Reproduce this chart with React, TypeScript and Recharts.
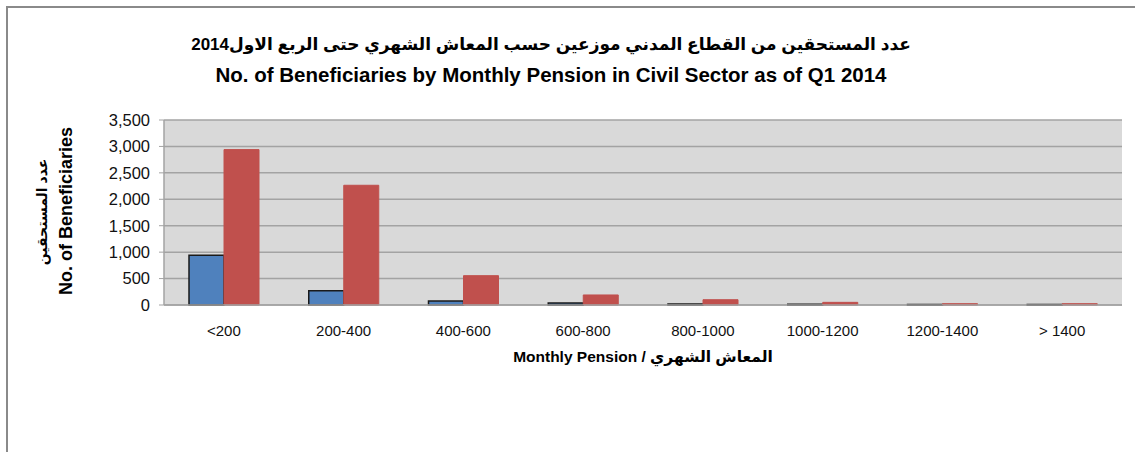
import React from "react";
import { BarChart, Bar, XAxis, YAxis, CartesianGrid } from "recharts";

const categories = ["<200", "200-400", "400-600", "600-800", "800-1000", "1000-1200", "1200-1400", "> 1400"];
const blueValues = [940, 270, 75, 40, 18, 12, 10, 10];
const redValues = [2940, 2265, 555, 190, 100, 50, 25, 25];
const yTicks = [0, 500, 1000, 1500, 2000, 2500, 3000, 3500];

const titleAr = "عدد المستحقين  من القطاع المدني موزعين حسب المعاش الشهري حتى الربع الاول2014";
const titleEn = "No. of Beneficiaries by Monthly Pension in Civil Sector as of Q1 2014";
const yLabelAr = "عدد المستحقين";
const yLabelEn = "No. of Beneficiaries";
const xLabel = "Monthly Pension / المعاش الشهري";

const data = categories.map((name, i) => ({
  name,
  seriesA: blueValues[i],
  seriesB: redValues[i],
}));

const FONT = "'Liberation Sans', 'DejaVu Sans', sans-serif";

const YLabel = () => (
  <g>
    <text
      transform="translate(47, 212) rotate(-90)"
      textAnchor="middle"
      fontFamily={FONT}
      fontWeight="bold"
      fontSize={14}
      fill="#000"
    >
      {yLabelAr}
    </text>
    <text
      transform="translate(72, 211) rotate(-90)"
      textAnchor="middle"
      fontFamily={FONT}
      fontWeight="bold"
      fontSize={18}
      fill="#000"
    >
      {yLabelEn}
    </text>
  </g>
);

const XLabel = (props: any) => {
  const vb = props.viewBox || { x: 164, width: 958 };
  return (
    <text
      x={vb.x + vb.width / 2}
      y={362}
      textAnchor="middle"
      fontFamily={FONT}
      fontWeight="bold"
      fontSize={15.5}
      fill="#000"
    >
      {xLabel}
    </text>
  );
};

export default function App() {
  return (
    <div
      style={{
        position: "absolute",
        left: 0,
        top: 0,
        width: 1135,
        height: 452,
        background: "#fff",
        fontFamily: FONT,
      }}
    >
      {/* chart frame: only left and top edges show */}
      <div
        style={{
          position: "absolute",
          left: 6,
          top: 6,
          width: 1129,
          height: 446,
          borderLeft: "2px solid #8a8a8a",
          borderTop: "2px solid #8a8a8a",
        }}
      />
      <div
        style={{
          position: "absolute",
          left: 0,
          top: 31,
          width: 1102,
          textAlign: "center",
          fontWeight: "bold",
          color: "#000",
        }}
      >
        <div style={{ fontSize: 17, lineHeight: "28px" }}>{titleAr}</div>
        <div style={{ fontSize: 20.5, lineHeight: "32px" }}>{titleEn}</div>
      </div>
      <BarChart
        width={1135}
        height={452}
        data={data}
        margin={{ top: 120, right: 13, bottom: 107, left: 0 }}
        barCategoryGap={25}
        barGap={0}
        style={{ position: "absolute", left: 0, top: 0 }}
      >
        <CartesianGrid
          vertical={false}
          fill="#D9D9D9"
          stroke="#A3A3A3"
          strokeWidth={1.5}
        />
        <XAxis
          dataKey="name"
          height={40}
          tickLine={false}
          axisLine={{ stroke: "#A3A3A3", strokeWidth: 1.5 }}
          tickMargin={14}
          tick={{ fontSize: 15, fill: "#111", fontFamily: FONT }}
          interval={0}
          label={<XLabel />}
        />
        <YAxis
          width={164}
          domain={[0, 3500]}
          ticks={yTicks}
          interval={0}
          tickSize={5}
          tickMargin={9}
          tickLine={{ stroke: "#A3A3A3" }}
          axisLine={{ stroke: "#A3A3A3", strokeWidth: 1.5 }}
          tick={{ fontSize: 16.5, fill: "#111", fontFamily: FONT }}
          tickFormatter={(v: number) => v.toLocaleString("en-US")}
          label={<YLabel />}
        />
        <Bar
          dataKey="seriesA"
          fill="#4F81BD"
          stroke="#1a1a1a"
          strokeWidth={1.5}
          isAnimationActive={false}
        />
        <Bar
          dataKey="seriesB"
          fill="#C0504D"
          stroke="#C0504D"
          strokeWidth={1}
          isAnimationActive={false}
        />
      </BarChart>
    </div>
  );
}
